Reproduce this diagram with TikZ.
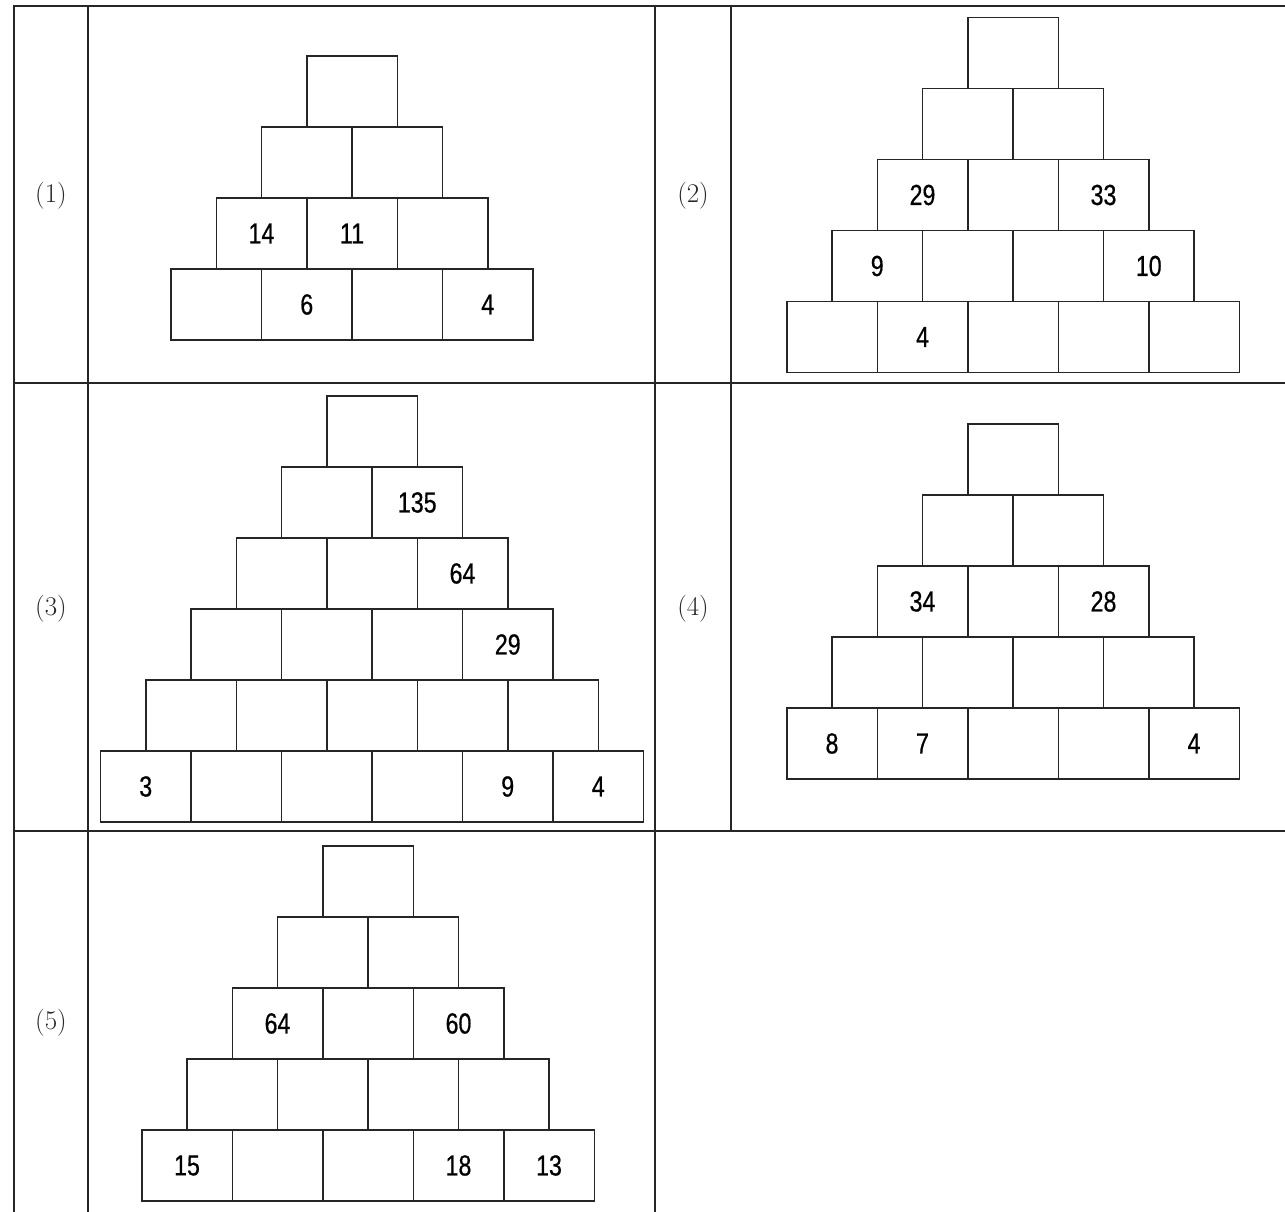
\documentclass[tikz,border=0pt]{standalone}
\usepackage{fontspec}
\usepackage{tikz}
\newfontfamily\numfont{Liberation Sans}[FakeStretch=0.8, FakeBold=0.6]

\begin{document}
\begin{tikzpicture}[
 x=1pt, y=-1pt,
 grid/.style={draw=black!85, line width=1.6pt, line cap=rect},
 cell/.style={rectangle, draw=black!85, line width=1.5pt,
 minimum width=90.5pt, minimum height=71pt, inner sep=0pt},
 num/.style={font=\numfont\fontsize{29}{30}\selectfont, inner sep=0pt, text=black},
 lbl/.style={font=\fontsize{27}{30}\selectfont, inner sep=0pt, text=black!85},
]
\useasboundingbox (0,0) rectangle (1285,1212);
% table
\draw[grid] (14,6) -- (1285,6) (14,383) -- (1285,383) (14,831) -- (1285,831);
\draw[grid] (14,6) -- (14,1212) (88,6) -- (88,1212) (655,6) -- (655,1212) (731,6) -- (731,831);
\foreach \p/\x/\y in {1/51/196, 2/693/196, 3/51/609, 4/693/609, 5/51/1023}
 \node[lbl] (lab\p) at (\x,\y) {(\p)};
% pyramids: number / rows / centre x / top y
\foreach \p/\n/\cx/\ty in {1/4/352/56, 2/5/1013/17.5, 3/6/372/396, 4/5/1013/424, 5/5/368/846}
 \foreach \r in {1,...,\n}
 \foreach \c in {1,...,\r}
 \node[cell] (p\p-\r-\c) at ({\cx+(\c-(\r+1)/2)*90.5}, {\ty+(\r-0.5)*71}) {};
% given numbers
\foreach \p/\r/\c/\v in {1/3/1/14, 1/3/2/11, 1/4/2/6, 1/4/4/4,
 2/3/1/29, 2/3/3/33, 2/4/1/9, 2/4/4/10, 2/5/2/4,
 3/2/2/135, 3/3/3/64, 3/4/4/29, 3/6/1/3, 3/6/5/9, 3/6/6/4,
 4/3/1/34, 4/3/3/28, 4/5/1/8, 4/5/2/7, 4/5/5/4,
 5/3/1/64, 5/3/3/60, 5/5/1/15, 5/5/4/18, 5/5/5/13}
 \node[num] (v\p-\r-\c) at (p\p-\r-\c) {\v};
\end{tikzpicture}
\end{document}
